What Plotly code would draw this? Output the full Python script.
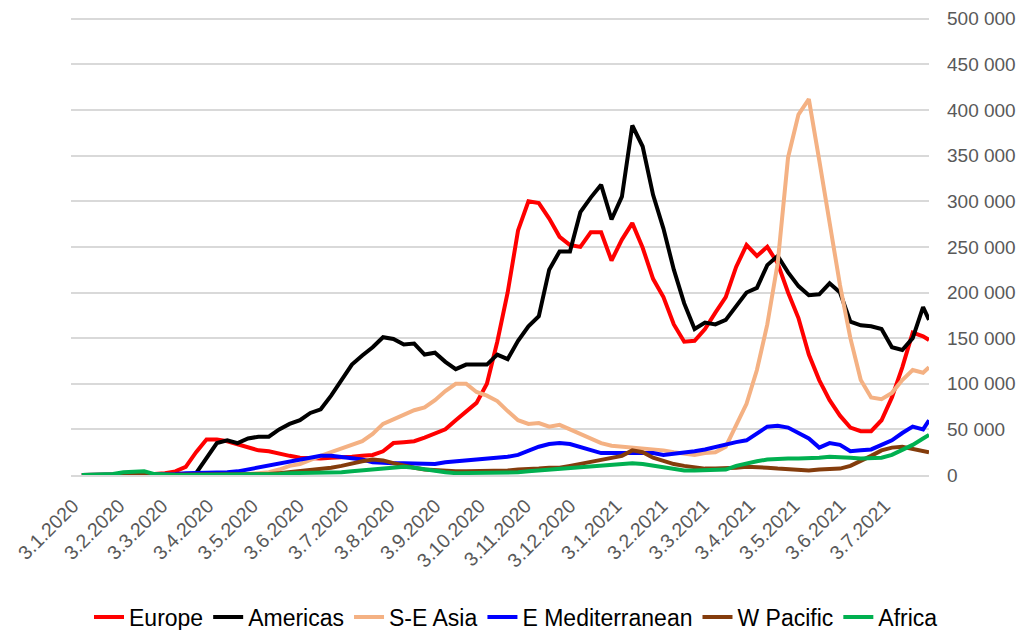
import pandas as pd
import plotly.graph_objects as go

# weekly readings (thousands of new cases per day), 9.1.2020 .. 29.7.2021 + last day
dates = list(pd.date_range('2020-01-09', periods=82, freq='7D')) + [pd.Timestamp('2021-08-02')]

europe = [0, 0, 0, 0, 0, 0, 0, 1, 2, 4, 9, 25, 39, 39,
          37, 34, 30, 27, 26, 23, 21, 19, 18, 18, 19, 19, 20, 21,
          22, 26, 35, 36, 37, 41, 45, 50, 60, 69, 79, 100, 146, 200,
          268, 300, 298, 281, 261, 252, 250, 266, 266, 235, 258, 276, 249, 215,
          195, 165, 146, 147, 160, 178, 195, 228, 252, 240, 250, 232, 200, 172,
          132, 104, 82, 65, 52, 48, 48, 60, 85, 118, 156, 152, 148]
americas = [0, 0, 0, 0, 0, 0, 0, 0, 0, 0, 0,
            2, 19, 35, 38, 35, 40, 42, 42, 50, 56, 60, 68, 72, 87,
            105, 121, 131, 140, 151, 149, 143, 144, 132, 134, 124, 116, 121, 121,
            121, 132, 127, 147, 163, 174, 225, 245, 245, 288, 304, 318, 280, 305,
            383, 360, 307, 270, 225, 188, 160, 167, 165, 170, 185, 200, 205, 230,
            240, 222, 207, 197, 198, 210, 200, 168, 164, 163, 160, 140, 137, 150,
            184, 170]
se_asia = [0, 0, 0, 0, 0, 0, 0, 0, 0, 0, 0, 0, 0, 0, 0,
           1, 1, 2, 3, 6, 10, 12, 17, 21, 25, 29, 33, 37, 45,
           56, 61, 66, 71, 74, 82, 92, 100, 100, 91, 87, 81, 70, 60,
           56, 57, 53, 55, 50, 45, 39, 35, 32, 31, 30, 30, 29, 27,
           25, 23, 22, 24, 25, 31, 55, 78, 115, 165, 232, 348, 395, 412,
           345, 275, 208, 150, 104, 85, 83, 90, 104, 115, 112, 118]
e_med = [0, 0, 0, 0, 0, 0, 0, 0,
         1, 1, 2, 2, 3, 3, 3, 4, 6, 8, 10, 12, 14, 16,
         19, 21, 21, 20, 19, 17, 14, 13, 13, 13, 13, 13, 12, 14,
         15, 15, 16, 17, 18, 20, 22, 27, 31, 34, 35, 34, 31, 27,
         24, 24, 24, 24, 25, 24, 22, 23, 25, 26, 28, 31, 34, 36,
         38, 45, 53, 54, 52, 46, 40, 30, 35, 33, 26, 27, 28, 33,
         38, 46, 53, 50, 60]
w_pacific = [0, 0, 1, 1, 1, 1, 1, 1, 1, 1, 1, 1, 1, 1,
             1, 1, 1, 1, 1, 2, 3, 4, 5, 6, 8, 10, 13, 15,
             17, 16, 13, 10, 8, 6, 5, 4, 4, 4, 4, 5, 5, 5,
             6, 6, 7, 8, 8, 10, 12, 14, 16, 18, 21, 27, 25, 19,
             15, 12, 10, 8, 7, 7, 7, 8, 9, 9, 8, 7, 6, 6,
             5, 6, 6, 7, 10, 15, 21, 27, 30, 31, 29, 26, 25]
africa = [0, 0, 0, 1, 3, 4, 4, 1, 0, 0, 0, 0, 1, 1,
          1, 1, 1, 1, 1, 1, 2, 2, 2, 3, 3, 3, 4, 5,
          6, 7, 8, 9, 8, 6, 4, 3, 2, 2, 2, 2, 2, 2,
          3, 4, 5, 5, 6, 7, 9, 10, 10, 11, 12, 13, 12, 10,
          8, 6, 5, 5, 5, 5, 6, 10, 13, 15, 17, 18, 18, 18,
          18, 19, 20, 20, 19, 18, 18, 19, 22, 27, 33, 40, 44]

series = [
    ('Europe', europe, '#FF0000'),
    ('Americas', americas, '#000000'),
    ('S-E Asia', se_asia, '#F4B183'),
    ('E Mediterranean', e_med, '#0000FF'),
    ('W Pacific', w_pacific, '#843C0C'),
    ('Africa', africa, '#00B050'),
]

month_ticks = pd.date_range('2020-01-01', '2021-07-01', freq='MS') + pd.Timedelta(days=2)

fig = go.Figure()
for name, vals, col in series:
    fig.add_trace(go.Scatter(x=dates, y=[v * 1000 for v in vals], mode='lines', name=name,
                             line=dict(color=col, width=4)))

font = 'Liberation Sans, Arial, sans-serif'
# page body adds an 8px offset, so the figure is 8px smaller than the window
fig.update_layout(
    width=1016, height=622,
    margin=dict(l=63, r=95, t=8, b=155),
    paper_bgcolor='white', plot_bgcolor='white',
    separators='. ',
    font=dict(family=font, color='#595959'),
    showlegend=True,
    legend=dict(orientation='h', xref='container', x=0.5, xanchor='center',
                yref='container', y=0.021, yanchor='middle',
                font=dict(size=23, color='black'), itemwidth=30),
    xaxis=dict(type='date', range=['2020-01-01 16:00', '2021-08-02 00:00'],
               tickvals=month_ticks, tickformat='%-d.%-m.%Y', tickangle=-45,
               tickfont=dict(size=19.5, color='#595959'), showgrid=False,
               showline=True, linecolor='#d9d9d9', linewidth=1.5, ticks='',
               ticklabelstandoff=10, automargin=False),
    yaxis=dict(side='right', range=[0, 503000], tickvals=list(range(0, 500001, 50000)),
               tickformat=',d', gridcolor='#d9d9d9', gridwidth=1.5, zeroline=False,
               tickfont=dict(size=19, color='#595959'), ticklabelstandoff=17,
               ticklabeloverflow='allow', automargin=False),
)

fig.write_html("out.html")
